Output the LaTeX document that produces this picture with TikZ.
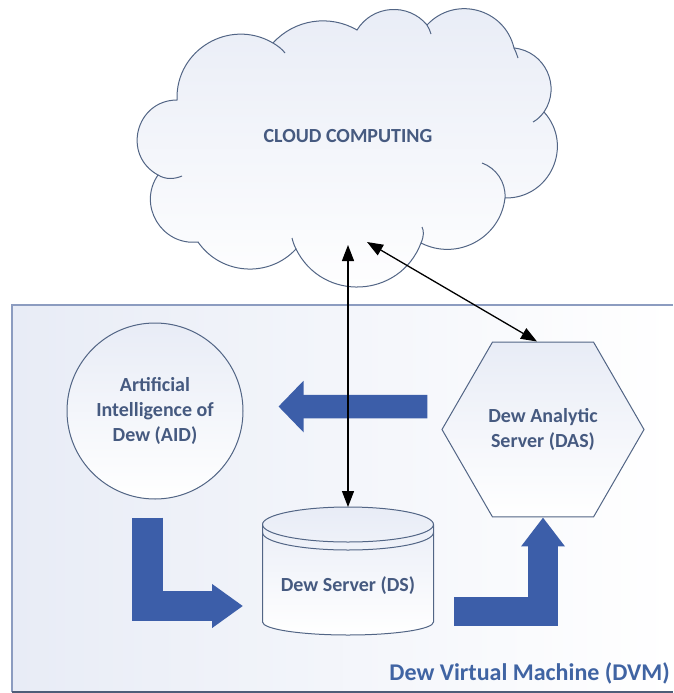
\documentclass[tikz,border=0pt]{standalone}
\usepackage{fontspec}
\setmainfont{Carlito}
\usetikzlibrary{arrows.meta,shapes.geometric,positioning}

\definecolor{edgecol}{HTML}{526585}
\definecolor{labelcol}{HTML}{465A80}
\definecolor{blockcol}{HTML}{3C5EA9}
\definecolor{dvmcol}{HTML}{4064A3}
\definecolor{tintcol}{HTML}{E8ECF6}
\definecolor{framecol}{HTML}{8C9CC0}
\definecolor{basecol}{HTML}{4E5D78}

\tikzset{
  lbl/.style={text=labelcol, font=\fontsize{20}{25}\selectfont\bfseries, align=center},
  edge/.style={draw=edgecol, line width=1pt},
  link/.style={black, line width=1.3pt,
    {Triangle[length=16pt,width=12pt]}-{Triangle[length=16pt,width=12pt]}},
  flow/.style={draw=blockcol, line width=#1}
}

\begin{document}
\begin{tikzpicture}[x=1pt,y=-1pt]
        % --- Parameters ---
        \pgfmathsetmacro{\dsx}{348}
        \pgfmathsetmacro{\dsrx}{85.5}
        \pgfmathsetmacro{\dstop}{524.5}
        \pgfmathsetmacro{\dsbot}{622}
        \useasboundingbox (0,0) rectangle (673,693);

        % --- DVM box ---
        \shade[left color=tintcol, right color=white] (12,305) rectangle (673,692);
        \draw[framecol, line width=1.5pt] (12,692) -- (12,305) -- (673,305);
        \draw[basecol, line width=2pt] (12,692) -- (673,692);
        \node[text=dvmcol, font=\fontsize{24}{29}\selectfont\bfseries, anchor=base east, inner sep=0pt]
            (dvm) at (670,680) {Dew Virtual Machine (DVM)};

        % --- Cloud ---
        \draw[edge, top color=tintcol, bottom color=white] (158,175)
            .. controls (121.7,155.2) and (135.7,100.2) .. (177,100)
            .. controls (175.3,49.8) and (229.7,17.6) .. (273,43)
            .. controls (294.4,19.4) and (329.4,14) .. (357,30)
            .. controls (372.4,4.9) and (408.2,2.3) .. (427,25)
            .. controls (454.8,-4.9) and (504.6,8.3) .. (514,48)
            .. controls (545,51.2) and (561.4,86.2) .. (544,112)
            .. controls (574.2,145.4) and (550,198.8) .. (505,198)
            .. controls (500.4,238.2) and (457,261.4) .. (421,243)
            .. controls (399.8,298.7) and (322.4,302.5) .. (296,249)
            .. controls (268.7,278.4) and (220.9,275) .. (198,242)
            .. controls (161.6,246) and (137.2,205.2) .. (158,175) -- cycle;
        % inner arcs
        \draw[edge] (158,175) .. controls (166,180) and (175,179) .. (182,176);
        \draw[edge] (273,43) .. controls (278,46) and (282,49) .. (285,53);
        \draw[edge] (427,25) .. controls (429,28) and (430,31) .. (431,34);
        \draw[edge] (514,48) .. controls (516,52) and (517,55) .. (518,58);
        \draw[edge] (544,112) .. controls (541,116) and (537,120) .. (533,122);
        \draw[edge] (505,198) .. controls (506,182) and (496,168) .. (482,163);
        \draw[edge] (421,243) .. controls (424,236) and (424,231) .. (422,227);
        \draw[edge] (296,249) .. controls (294,245) and (293,242) .. (292,238);
        \node[lbl] (cloud) at (348,136) {CLOUD COMPUTING};

        % --- AID and DAS ---
        \node[lbl, edge, circle, minimum size=176pt, inner sep=0pt,
            top color=tintcol, bottom color=white] (aid) at (155,411)
            {Artificial\\Intelligence of\\Dew (AID)};
        \node[lbl, edge, regular polygon, regular polygon sides=6, minimum size=202pt, inner sep=0pt,
            top color=tintcol, bottom color=white] (das) at (543,429.5)
            {Dew Analytic\\Server (DAS)};

        % --- Dew Server (cylinder) ---
        \node[minimum width=171pt, minimum height=128pt, inner sep=0pt, outer sep=0pt]
            (ds) at (\dsx,571) {};
        \draw[edge, top color=tintcol, bottom color=white]
            (\dsx-\dsrx,\dstop) -- (\dsx-\dsrx,\dsbot)
            arc[start angle=180, end angle=0, x radius=\dsrx, y radius=13]
            -- (\dsx+\dsrx,\dstop)
            arc[start angle=0, end angle=-180, x radius=\dsrx, y radius=17.5] -- cycle;
        \draw[edge] (\dsx-\dsrx,\dstop) arc[start angle=180, end angle=0, x radius=\dsrx, y radius=17.5];
        \draw[edge] (\dsx-\dsrx,\dstop+8) arc[start angle=180, end angle=0, x radius=\dsrx, y radius=17.5];
        \node[lbl] (dslabel) at ([yshift=-15pt]ds.center) {Dew Server (DS)};

        % --- Block arrows ---
        \draw[flow=23.5pt, -{Triangle[length=25pt,width=50pt]}]
            ([shift={(-14,-23)}]das.west) -- ([shift={(35,-4.5)}]aid.east);
        \draw[flow=30.5pt, -{Triangle[length=31pt,width=42pt]}]
            ([shift={(-7.5,18)}]aid.south) |- ([shift={(-19.5,35)}]ds.west);
        \draw[flow=29.5pt, -{Triangle[length=29pt,width=42pt]}]
            ([shift={(20.5,40.5)}]ds.east) -| (das.south);

        % --- Links to the cloud ---
        \coordinate (cloudds) at (348,245);
        \coordinate (clouddas) at (367,242);
        \draw[link] (cloudds) -- (ds.north);
        \draw[link] (clouddas) -- ([xshift=-6pt]das.north);
\end{tikzpicture}
\end{document}
